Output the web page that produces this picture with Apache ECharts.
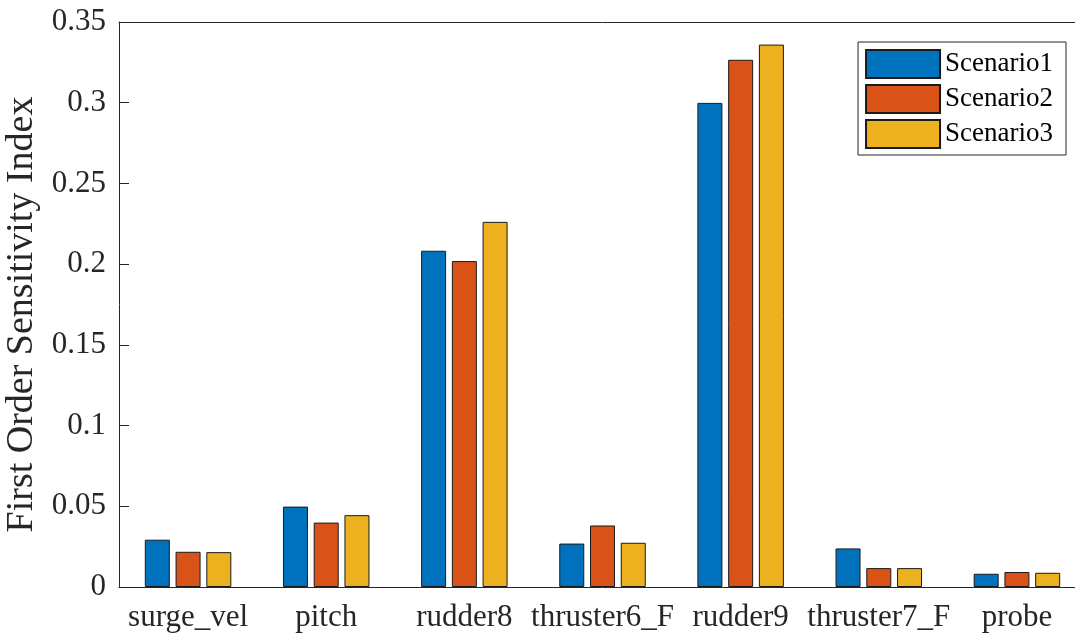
<!DOCTYPE html>
<html>
<head>
<meta charset="utf-8">
<script src="https://cdn.jsdelivr.net/npm/echarts@6/dist/echarts.min.js"></script>
<style>
  html, body { margin: 0; padding: 0; background: #fff; overflow: hidden; }
  /* the original figure is cut off at the right edge, so the chart is wider than the window */
  #chart { width: 1086px; height: 635px; }
</style>
</head>
<body>
<div id="chart"></div>
<script>
const categories = ['surge_vel', 'pitch', 'rudder8', 'thruster6_F', 'rudder9', 'thruster7_F', 'probe']
const scenarioNames = ['Scenario1', 'Scenario2', 'Scenario3']
const scenario1 = [0.0293, 0.0498, 0.2083, 0.0269, 0.2999, 0.0239, 0.0082]
const scenario2 = [0.0218, 0.0399, 0.2019, 0.0381, 0.3266, 0.0117, 0.0093]
const scenario3 = [0.0216, 0.0445, 0.2262, 0.0274, 0.3360, 0.0117, 0.0088]
const yTicks = [0, 0.05, 0.1, 0.15, 0.2, 0.25, 0.3, 0.35]

const colors = ['#0072BD', '#D95319', '#EDB120']
const axisColor = '#262626'
const font = 'Liberation Serif'

function DrawSensitivityChart(elementId) {
  const myChart = echarts.init(document.getElementById(elementId), null, {
    renderer: 'canvas',
  })

  const seriesData = [scenario1, scenario2, scenario3]
  const series = seriesData.map(function (data, i) {
    return {
      name: scenarioNames[i],
      type: 'bar',
      data: data,
      barWidth: 25,
      barGap: '23%',
      itemStyle: {
        color: colors[i],
        borderColor: '#1a1a1a',
        borderWidth: 1,
      },
    }
  })

  const tickStyle = {
    inside: true,
    alignWithLabel: true,
    length: 10,
    lineStyle: { color: axisColor },
  }

  const option = {
    animation: false,
    backgroundColor: '#fff',
    grid: {
      left: 119,
      right: 0,
      top: 22,
      bottom: 48,
      outerBoundsMode: 'none',
    },
    legend: {
      data: scenarioNames,
      orient: 'vertical',
      icon: 'rect',
      right: 20,
      top: 42,
      itemWidth: 74,
      itemHeight: 28,
      itemGap: 5,
      padding: [7, 13, 6, 7],
      borderColor: axisColor,
      borderWidth: 1,
      borderRadius: 0,
      backgroundColor: '#fff',
      textStyle: {
        fontFamily: font,
        fontSize: 27,
        color: '#000',
      },
    },
    xAxis: [
      {
        type: 'category',
        data: categories,
        z: 10,
        axisLine: { lineStyle: { color: axisColor, width: 1 } },
        axisTick: tickStyle,
        axisLabel: {
          fontFamily: font,
          fontSize: 31,
          color: axisColor,
          margin: 15,
          interval: 0,
        },
      },
      {
        // top edge of the box, ticks only
        type: 'category',
        data: categories,
        position: 'top',
        z: 10,
        axisLine: { lineStyle: { color: axisColor, width: 1 } },
        axisTick: tickStyle,
        axisLabel: { show: false },
      },
    ],
    yAxis: {
      type: 'value',
      min: yTicks[0],
      max: yTicks[yTicks.length - 1],
      interval: 0.05,
      name: 'First Order Sensitivity Index',
      nameLocation: 'middle',
      nameGap: 73,
      nameTextStyle: {
        fontFamily: font,
        fontSize: 38,
        color: axisColor,
        padding: [0, 20, 0, 0],
      },
      splitLine: { show: false },
      axisLine: { show: true, lineStyle: { color: axisColor, width: 1 } },
      axisTick: {
        show: true,
        inside: true,
        length: 10,
        lineStyle: { color: axisColor },
      },
      axisLabel: {
        fontFamily: font,
        fontSize: 31,
        color: axisColor,
        margin: 13,
        formatter: function (v) {
          return String(parseFloat(v.toFixed(2)))
        },
      },
    },
    series: series,
  }

  myChart.setOption(option)
}

DrawSensitivityChart('chart')
</script>
</body>
</html>
